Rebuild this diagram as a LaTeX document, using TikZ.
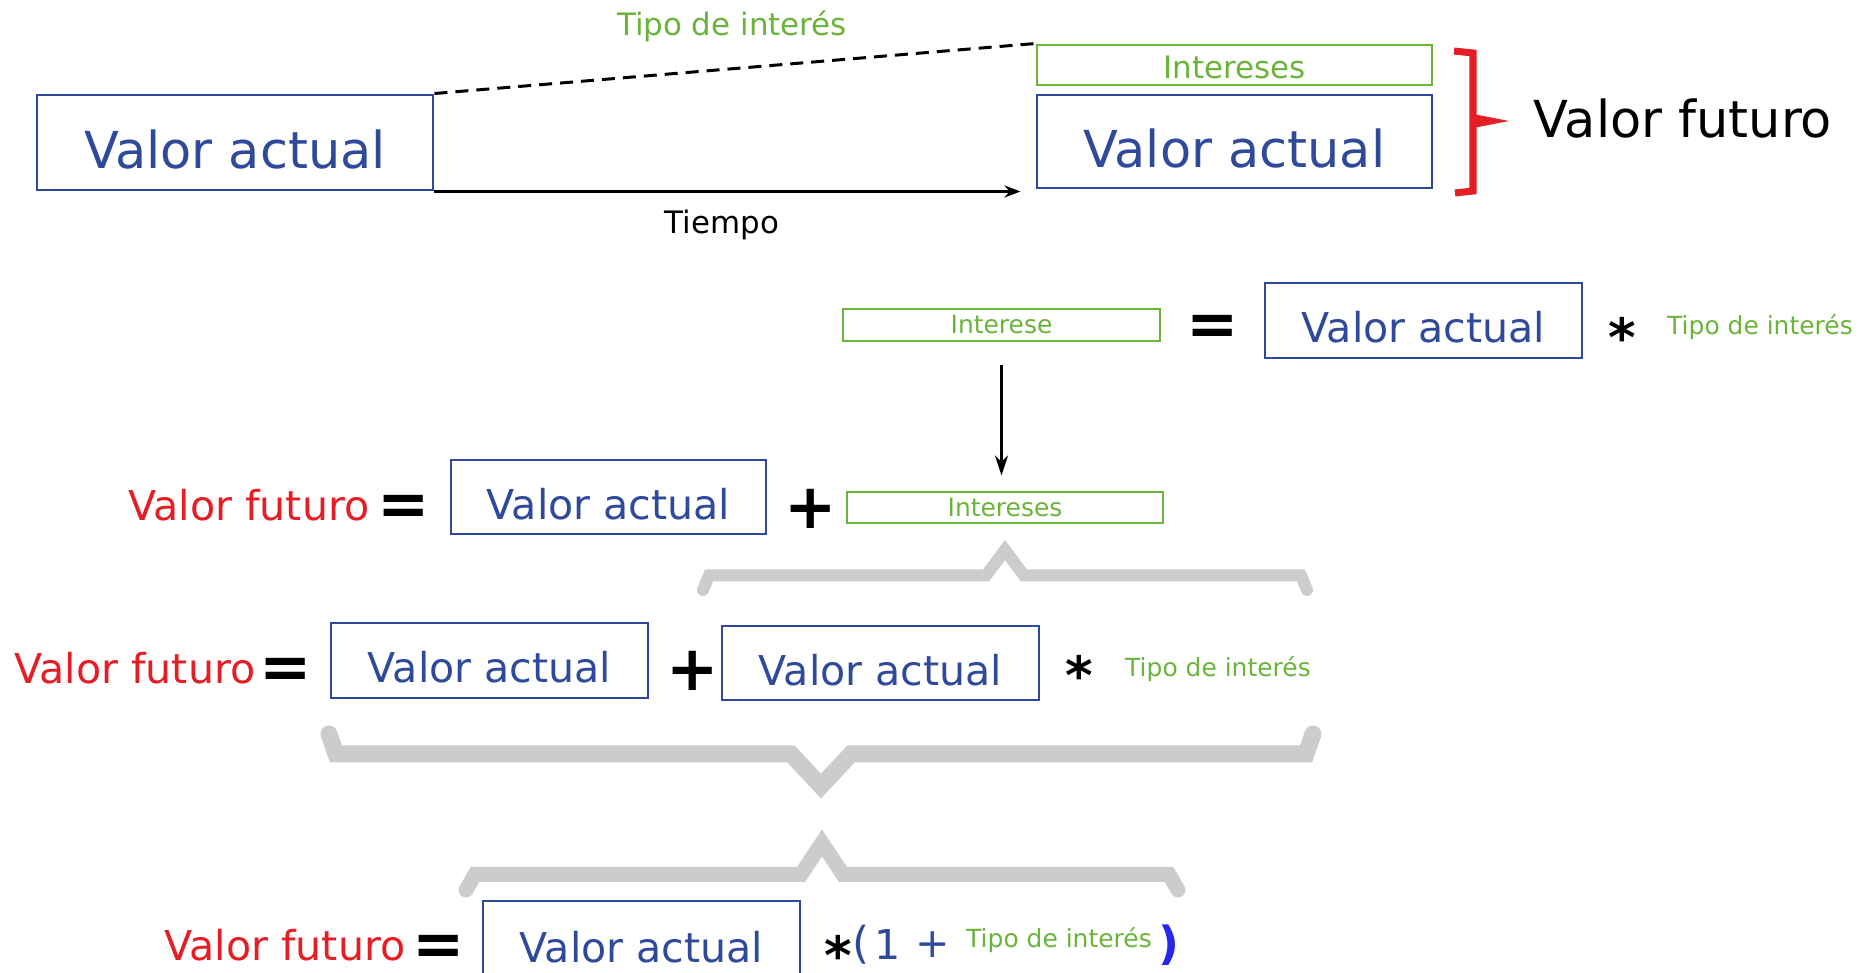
\documentclass[tikz,border=0pt]{standalone}
\usepackage{fontspec}
\setmainfont{DejaVu Sans}
\usetikzlibrary{arrows.meta, positioning}
\definecolor{azul}{RGB}{47,74,154}
\definecolor{azulvivo}{RGB}{40,40,235}
\definecolor{verde}{RGB}{106,180,58}
\definecolor{rojo}{RGB}{229,30,37}
\definecolor{gris}{RGB}{204,204,204}
\newcommand{\grande}{\fontsize{14.5}{17}\selectfont}
\newcommand{\medio}{\fontsize{11.7}{14}\selectfont}
\newcommand{\chico}{\fontsize{8.8}{11}\selectfont}
\newcommand{\mini}{\fontsize{7.1}{9}\selectfont}
\tikzstyle{caja} = [
    draw=azul,
    line width=0.85pt,
    text=azul,
    font=\medio,
    text height=0.45cm,
    text depth=0pt,
    inner sep=0pt
]
\tikzstyle{cajagrande} = [
    caja,
    font=\grande,
    text height=0.53cm
]
\tikzstyle{cajaint} = [
    draw=verde,
    line width=0.85pt,
    text=verde,
    inner sep=0pt
]
\tikzstyle{signo} = [
    font=\fontsize{17.8}{18}\bfseries\selectfont,
    inner sep=0pt
]
\tikzstyle{estrella} = [
    font=\fontsize{15}{15}\bfseries\selectfont,
    inner sep=0pt
]
\tikzstyle{flecha} = [
    -{Stealth[length=0.16cm, width=0.12cm]},
    line width=0.85pt
]
\tikzstyle{llave} = [
    draw=gris,
    line cap=round,
    line join=miter
]

\begin{document}
\begin{tikzpicture}
    \useasboundingbox (0,0) rectangle (18.69,-9.73);

    % Valor actual en el tiempo
    \node[cajagrande, minimum width=3.96cm, minimum height=0.95cm] (va1) at (2.35,-1.425) {Valor actual};
    \node[cajaint, font=\chico, text height=0.27cm, minimum width=3.95cm, minimum height=0.40cm] (int1) at (12.345,-0.65) {Intereses};
    \node[cajagrande, minimum width=3.95cm, minimum height=0.93cm] (va2) at (12.345,-1.415) {Valor actual};
    \draw[line width=0.85pt, dash pattern=on 0.13cm off 0.08cm] (va1.north east) -- (int1.north west);
    \draw[flecha, shorten >=0.15cm] (va1.south east) -- (va1.south east -| va2.west);
    \node[text=verde, font=\chico] (tasa1) at (7.32,-0.26) {Tipo de interés};
    \node[font=\chico] (tiempo) at (7.22,-2.25) {Tiempo};

    % Llave roja
    \draw[rojo, line width=2pt] (14.54,-0.51) -- (14.73,-0.53) -- (14.73,-1.91) -- (14.55,-1.93);
    \fill[rojo] (14.73,-1.14) -- (15.09,-1.21) -- (14.73,-1.28) -- cycle;
    \node[font=\grande] (vf1) at (16.83,-1.19) {Valor futuro};

    % Intereses
    \node[cajaint, font=\mini, minimum width=3.17cm, minimum height=0.32cm] (int2) at (10.015,-3.25) {Interese};
    \node[signo] (eq2) at (12.13,-3.30) {=};
    \node[caja, minimum width=3.17cm, minimum height=0.75cm] (va3) at (14.235,-3.205) {Valor actual};
    \node[estrella] (ast2) at (16.22,-3.365) {*};
    \node[text=verde, font=\mini] (tasa2) at (17.60,-3.27) {Tipo de interés};

    % Primera igualdad
    \node[text=rojo, font=\medio] (vf3) at (2.49,-5.05) {Valor futuro};
    \node[signo] (eq3) at (4.04,-5.10) {=};
    \node[caja, minimum width=3.15cm, minimum height=0.74cm] (va4) at (6.085,-4.97) {Valor actual};
    \node[signo] (plus3) at (8.11,-5.09) {+};
    \node[cajaint, font=\mini, minimum width=3.16cm, minimum height=0.31cm] (int3) at (10.05,-5.075) {Intereses};
    \draw[flecha, -{Stealth[length=0.2cm, width=0.13cm]}, shorten <=0.23cm, shorten >=0.15cm] (int2.south) -- (int2.south |- int3.north);

    \draw[llave, line width=0.12cm] (7.03,-5.90) -- (7.09,-5.755) -- (9.86,-5.755) -- (10.05,-5.50)
        -- (10.24,-5.755) -- (13.01,-5.755) -- (13.07,-5.90);

    % Segunda igualdad
    \node[text=rojo, font=\medio] (vf4) at (1.35,-6.68) {Valor futuro};
    \node[signo] (eq4) at (2.86,-6.73) {=};
    \node[caja, minimum width=3.17cm, minimum height=0.75cm] (va5) at (4.895,-6.605) {Valor actual};
    \node[signo] (plus4) at (6.93,-6.71) {+};
    \node[caja, minimum width=3.17cm, minimum height=0.74cm] (va6) at (8.805,-6.63) {Valor actual};
    \node[estrella] (ast4) at (10.79,-6.745) {*};
    \node[text=verde, font=\mini] (tasa4) at (12.18,-6.69) {Tipo de interés};

    \draw[llave, line width=0.17cm] (3.29,-7.34) -- (3.36,-7.54) -- (7.91,-7.54) -- (8.21,-7.86)
        -- (8.51,-7.54) -- (13.06,-7.54) -- (13.13,-7.34);
    \draw[llave, line width=0.15cm] (4.66,-8.90) -- (4.75,-8.745) -- (8.01,-8.745) -- (8.22,-8.43)
        -- (8.43,-8.745) -- (11.69,-8.745) -- (11.78,-8.90);

    % Resultado final
    \node[text=rojo, font=\medio] (vf5) at (2.85,-9.45) {Valor futuro};
    \node[signo] (eq5) at (4.385,-9.50) {=};
    \node[caja, minimum width=3.17cm, minimum height=0.78cm] (va7) at (6.415,-9.40) {Valor actual};
    \node[estrella] (ast5) at (8.38,-9.55) {*};
    \node[text=azul, font=\fontsize{12.5}{13}\selectfont] (lpar) at (8.61,-9.45) {(};
    \node[text=azul, font=\medio] (uno) at (8.88,-9.45) {1};
    \node[text=azul, font=\medio] (mas) at (9.33,-9.45) {+};
    \node[text=verde, font=\mini] (tasa5) at (10.59,-9.40) {Tipo de interés};
    \node[text=azulvivo, font=\fontsize{13}{13}\bfseries\selectfont] (rpar) at (11.69,-9.45) {)};
\end{tikzpicture}
\end{document}
